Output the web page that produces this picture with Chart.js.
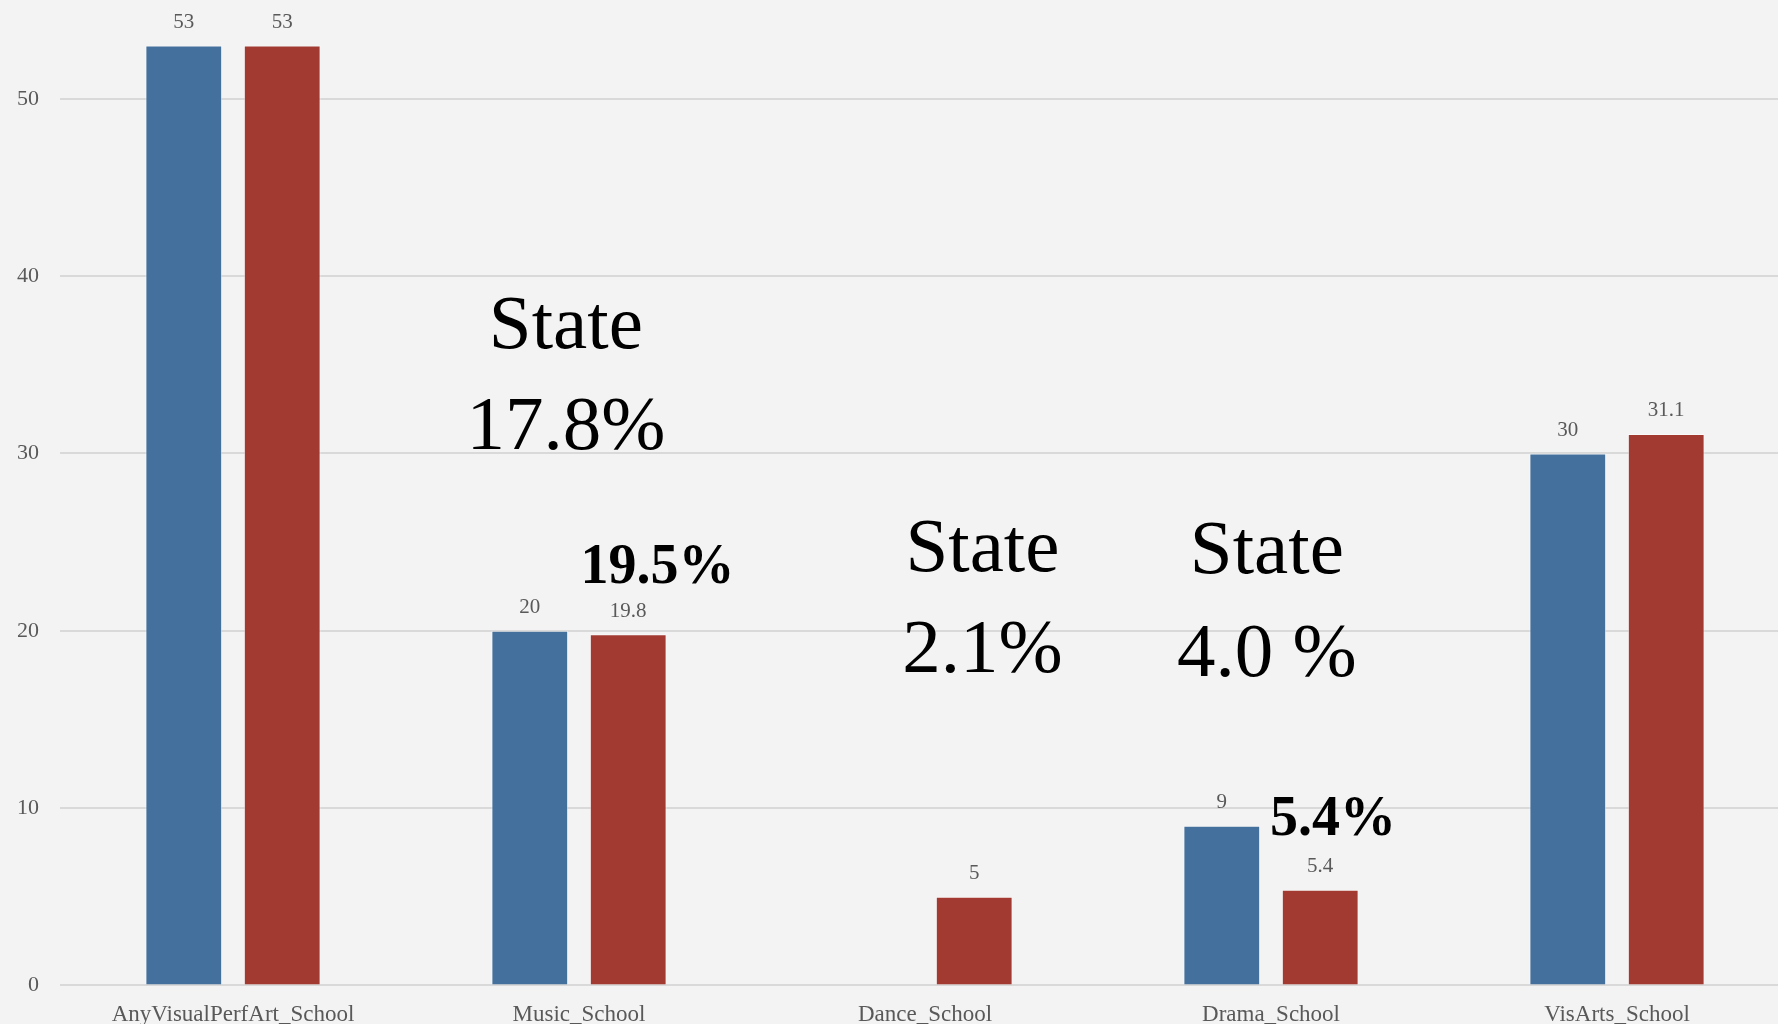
<!DOCTYPE html>
<html>
<head>
<meta charset="utf-8">
<script src="https://cdn.jsdelivr.net/npm/chart.js@4/dist/chart.umd.min.js"></script>
<style>
  html, body { margin: 0; padding: 0; background: #f3f3f3; overflow: hidden; }
  #wrap { position: relative; width: 1792px; height: 1070px; margin-top: -33px; }
</style>
</head>
<body>
<div id="wrap"><canvas id="chartCanvas"></canvas></div>
<script>
const categories = ["AnyVisualPerfArt_School", "Music_School", "Dance_School", "Drama_School", "VisArts_School"];
const blueValues = [53, 20, null, 9, 30];
const redValues = [53, 19.8, 5, 5.4, 31.1];
const yTicks = [0, 10, 20, 30, 40, 50];

// text notes placed on the chart (category index, y value)
const noteTexts = ["State", "17.8%", "19.5%", "State", "2.1%", "State", "4.0 %", "5.4%"];
const noteCats = [1, 1, 1, 2, 2, 3, 3, 3];
const noteValues = [37.1, 31.4, 23.5, 24.5, 18.8, 24.4, 18.6, 9.3];

const FONT = "'Liberation Serif', 'DejaVu Serif', serif";
const noteShift = [-0.038, -0.038, 0.227, 0.166, 0.166, -0.012, -0.012, 0.179];
const noteBold = [false, false, true, false, false, false, false, true];

const valueLabels = {
    id: "valueLabels",
    afterDatasetsDraw(chart) {
        const ctx = chart.ctx;
        ctx.save();
        ctx.font = "21px " + FONT;
        ctx.fillStyle = "#595959";
        ctx.textAlign = "center";
        ctx.textBaseline = "middle";
        chart.data.datasets.forEach((ds, i) => {
            chart.getDatasetMeta(i).data.forEach((bar, j) => {
                if (ds.data[j] === null) return;
                ctx.fillText(String(ds.data[j]), bar.x, bar.y - 23);
            });
        });
        ctx.restore();
    },
};

const notes = {
    id: "notes",
    afterDraw(chart) {
        const ctx = chart.ctx;
        const xs = chart.scales.x;
        const ys = chart.scales.y;
        const catW = xs.width / categories.length;
        ctx.save();
        ctx.fillStyle = "#000";
        ctx.textAlign = "center";
        ctx.textBaseline = "middle";
        noteTexts.forEach((t, i) => {
            ctx.font = noteBold[i] ? "bold 56px " + FONT : "77px " + FONT;
            const x = xs.getPixelForValue(noteCats[i]) + noteShift[i] * catW;
            const y = ys.getPixelForValue(noteValues[i]);
            ctx.fillText(t, x, y);
        });
        ctx.restore();
    },
};

new Chart(document.getElementById("chartCanvas").getContext("2d"), {
    type: "bar",
    data: {
        labels: categories,
        datasets: [
            {
                data: blueValues,
                backgroundColor: "#44709d",
                borderColor: "rgba(255,255,255,0.5)",
                borderWidth: 1,
            },
            {
                data: redValues,
                backgroundColor: "#a23a32",
                borderColor: "rgba(255,255,255,0.5)",
                borderWidth: 1,
            },
        ],
    },
    options: {
        responsive: true,
        maintainAspectRatio: false,
        animation: false,
        categoryPercentage: 0.569,
        barPercentage: 0.78,
        layout: { padding: { left: 0, right: 2, top: 0, bottom: 0 } },
        plugins: { legend: { display: false }, tooltip: { enabled: false } },
        scales: {
            x: {
                grid: { display: false },
                border: { display: false },
                ticks: {
                    color: "#595959",
                    font: { family: FONT, size: 23 },
                    padding: 8,
                    maxRotation: 0,
                    autoSkip: false,
                },
            },
            y: {
                min: 0,
                max: 55.5,
                afterBuildTicks: (scale) => {
                    scale.ticks = yTicks.map((v) => ({ value: v }));
                },
                afterFit: (scale) => {
                    scale.width = 60;
                },
                grid: { color: "#d9d9d9", lineWidth: 2, drawTicks: false },
                border: { display: false },
                ticks: {
                    color: "#595959",
                    font: { family: FONT, size: 22 },
                    padding: 21,
                },
            },
        },
    },
    plugins: [valueLabels, notes],
});
</script>
</body>
</html>
